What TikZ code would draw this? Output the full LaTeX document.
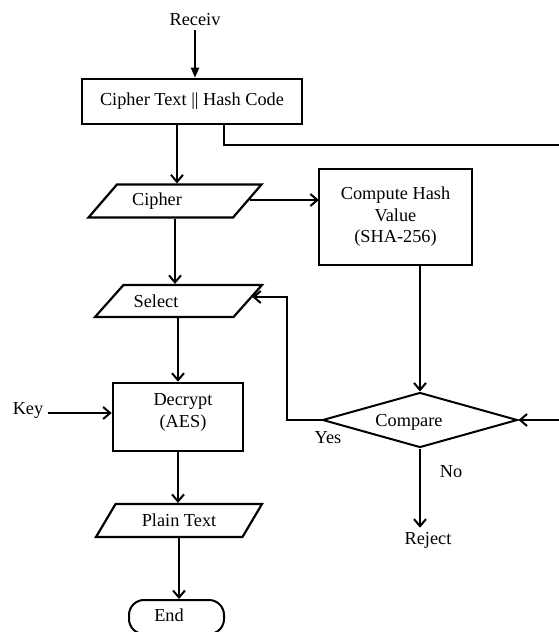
\documentclass[tikz,border=0pt]{standalone}
\usepackage{fontspec}
\setmainfont{Liberation Serif}
\usetikzlibrary{shapes.geometric,arrows.meta}
\begin{document}
\begin{tikzpicture}[x=1pt, y=-1pt, >={Straight Barb[length=7pt,width=12pt]},
  line width=2pt, font=\fontsize{18.3}{21.5}\selectfont,
  box/.style={draw, line width=2.6pt, align=center},
  io/.style={draw, trapezium, trapezium left angle=44, trapezium right angle=136,
    trapezium stretches body, line width=2.2pt, inner sep=3pt},
  decide/.style={draw, diamond, aspect=3.5, inner sep=2pt, line width=2pt},
  term/.style={draw, rounded corners=15pt, line width=2pt}]
\useasboundingbox (0,0) rectangle (558,632);
% main column
\node (recv) at (195,20) {Receiv};
\node[box, minimum width=220pt, minimum height=45pt] (cth) at (192,101.5) {Cipher Text || Hash Code};
\node[io, minimum width=173pt, minimum height=33pt,
  label={[xshift=-18pt]center:Cipher}] (cipher) at (175,201) {\strut};
\node[io, minimum width=167pt, minimum height=32pt,
  label={[xshift=-22.5pt]center:Select}] (select) at (178.5,301) {\strut};
\node[box, minimum width=130pt, minimum height=68pt,
  label={[xshift=5pt, yshift=4.5pt, align=center]center:Decrypt\\(AES)}] (dec) at (178,417) {};
\node (key) at (28,410) {Key};
\node[io, minimum width=166pt, minimum height=33pt] (plain) at (179,520.5) {Plain Text};
\node[term, minimum width=95pt, minimum height=34pt,
  label={[xshift=-7.5pt, yshift=2pt]center:End}] (endn) at (176.5,617) {};
% hash check
\node[box, line width=2.2pt, minimum width=153pt, minimum height=96pt] (hash) at (395.5,217) {Compute Hash\\Value\\(SHA-256)};
\node[decide, minimum width=195pt, minimum height=55pt,
  label={[xshift=-11pt, yshift=-2.5pt]center:Compare}] (cmp) at (420,420) {\strut};
\node (yes) at (328,438) {Yes};
\node (no) at (451,472) {No};
\node (rej) at (428,540) {Reject};
\coordinate (back) at (287,297);
\coordinate (rt) at (560,145);
% arrows
\draw[-{Triangle[length=10pt,width=8pt]}] (recv.south) -- (recv.south |- cth.north);
\draw[->] ([xshift=-15pt]cth.south) -- ([xshift=-15pt]cth.south |- cipher.north);
\draw[->] (cipher.south) -- (cipher.south |- select.north);
\draw[->] (select.south -| dec.north) -- (dec.north);
\draw[->] ([yshift=-3pt]key.east) -- ([yshift=-3pt]key.east -| dec.west);
\draw[->] (dec.south) -- (dec.south |- plain.north);
\draw[->] (plain.south) -- (plain.south |- endn.north);
\draw[->] ([shift={(1,-1)}]cipher.right side) -- ([shift={(1,-1)}]cipher.right side -| hash.west);
\draw[->] ([xshift=24.5pt]hash.south) -- ([xshift=24.5pt]hash.south |- cmp.north);
\draw[->] (cmp.south) -- (cmp.south |- rej.north);
\draw[->] (cmp.west) -| (back) -- ([shift={(3,-4)}]select.right side);
\draw[->] ([xshift=32pt]cth.south) |- (rt) |- (cmp.east);
\end{tikzpicture}
\end{document}
